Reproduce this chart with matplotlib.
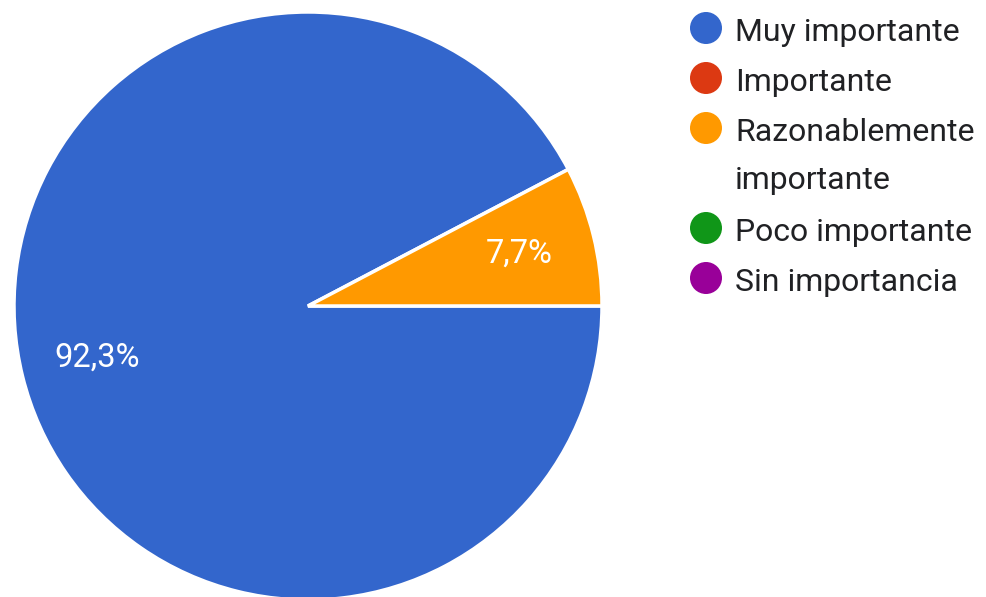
import matplotlib.pyplot as plt
from matplotlib.patches import Circle

plt.rcParams['font.family'] = ['Roboto', 'DejaVu Sans']

categories = ['Muy importante', 'Importante', 'Razonablemente\nimportante',
              'Poco importante', 'Sin importancia']
counts = [12, 0, 1, 0, 0]
colors = ['#3366cc', '#dc3912', '#ff9900', '#109618', '#990099']

W, H = 986, 597
fig = plt.figure(figsize=(W / 100, H / 100), dpi=100)

# pie: centre (308, 306) px, radius 294 px
cx, cy, r = 308, 306, 294
ax = fig.add_axes([(cx - r) / W, (H - cy - r) / H, 2 * r / W, 2 * r / H])
sizes = [c for c in counts if c > 0]
pie_colors = [col for c, col in zip(counts, colors) if c > 0]


def fmt(p):
    return ('%.1f%%' % p).replace('.', ',')


wedges, texts, autotexts = ax.pie(sizes, colors=pie_colors, startangle=27.7,
                                  autopct=fmt, pctdistance=0.74, radius=1,
                                  wedgeprops={'edgecolor': 'white', 'linewidth': 2.5})
for t in autotexts:
    t.set_color('white')
    t.set_fontsize(23.5)
ax.set_xlim(-1, 1)
ax.set_ylim(-1, 1)
ax.set_aspect('auto')
ax.axis('off')

# legend drawn by hand on a pixel-scaled overlay
lg = fig.add_axes([0, 0, 1, 1])
lg.set_xlim(0, W)
lg.set_ylim(H, 0)
lg.axis('off')
line_h = 50
y0 = 30
slot = 0
for label, col in zip(categories, colors):
    yc = y0 + slot * line_h
    lg.add_patch(Circle((706, yc - 2), 16, facecolor=col, edgecolor='none'))
    lines = label.split('\n')
    for k, line in enumerate(lines):
        lg.text(735, yc + 11 + k * 48, line, fontsize=23, color='#202124',
                va='baseline', ha='left')
    slot += len(lines)

fig.savefig('out.png', dpi=100)
